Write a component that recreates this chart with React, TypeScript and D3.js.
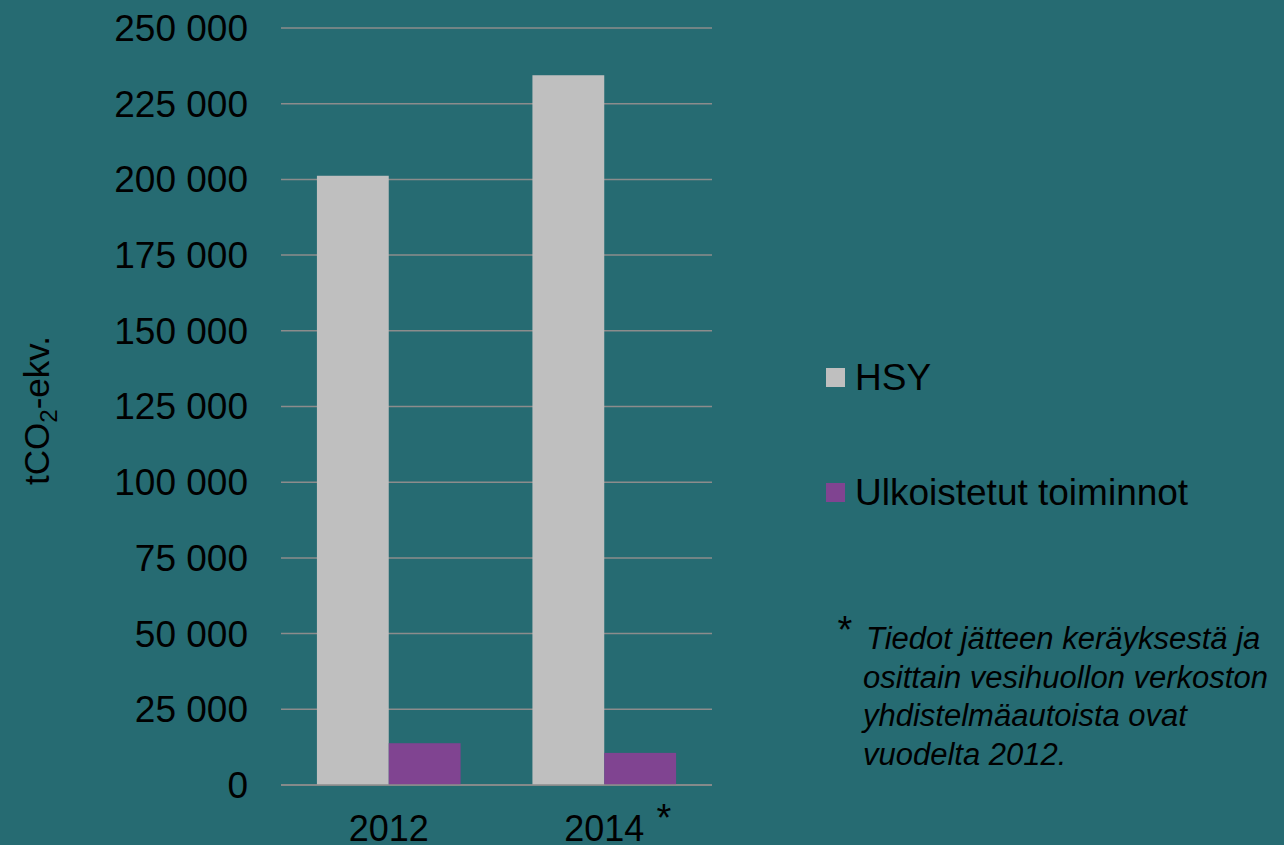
import React, { useEffect, useRef } from "react";
import * as d3 from "d3";

const years = ["2012", "2014"];
const seriesNames = ["HSY", "Ulkoistetut toiminnot"];
const hsyValues = [201200, 234400];
const outsourcedValues = [13800, 10600];
const yTicks = [0, 25000, 50000, 75000, 100000, 125000, 150000, 175000, 200000, 225000, 250000];
const footnoteLines = [
  "Tiedot jätteen keräyksestä ja",
  "osittain vesihuollon verkoston",
  "yhdistelmäautoista ovat",
  "vuodelta 2012.",
];

const W = 1284;
const H = 845;
const colors = ["#BFBFBF", "#804491"];

export default function App() {
  const ref = useRef<SVGSVGElement>(null);

  useEffect(() => {
    const svg = d3.select(ref.current);
    svg.selectAll("*").remove();

    const font = "'Liberation Sans', Arial, sans-serif";
    const left = 281;
    const right = 712;
    const top = 28;
    const bottom = 785;

    svg.append("rect").attr("width", W).attr("height", H).attr("fill", "#266B72");

    const y = d3.scaleLinear().domain([0, 250000]).range([bottom, top]);
    const x0 = d3.scaleBand().domain(years).range([left, right]).padding(0);
    const x1 = d3
      .scaleBand()
      .domain(seriesNames)
      .range([0, x0.bandwidth()])
      .paddingInner(0)
      .paddingOuter(0.5);

    // gridlines
    svg
      .append("g")
      .selectAll("line")
      .data(yTicks)
      .join("line")
      .attr("x1", left)
      .attr("x2", right)
      .attr("y1", (d) => y(d))
      .attr("y2", (d) => y(d))
      .attr("stroke", "#8C8C8C")
      .attr("stroke-width", 1.5);

    // tick labels
    const fmt = (v: number) => d3.format(",")(v).replace(/,/g, " ");
    svg
      .append("g")
      .selectAll("text")
      .data(yTicks)
      .join("text")
      .attr("x", 248)
      .attr("y", (d) => y(d))
      .attr("dy", "0.35em")
      .attr("text-anchor", "end")
      .attr("font-family", font)
      .attr("font-size", 37)
      .attr("fill", "#000")
      .text((d) => fmt(d));

    const rows = years.map((yr, i) => ({
      year: yr,
      values: [hsyValues[i], outsourcedValues[i]],
    }));

    const groups = svg
      .append("g")
      .selectAll("g")
      .data(rows)
      .join("g")
      .attr("transform", (d) => `translate(${x0(d.year)},0)`);

    groups
      .selectAll("rect")
      .data((d) => d.values.map((v, j) => ({ name: seriesNames[j], value: v, j })))
      .join("rect")
      .attr("x", (d) => x1(d.name)!)
      .attr("y", (d) => y(d.value))
      .attr("width", x1.bandwidth())
      .attr("height", (d) => y(0) - y(d.value))
      .attr("fill", (d) => colors[d.j]);

    // zero line on top
    svg
      .append("line")
      .attr("x1", left)
      .attr("x2", right)
      .attr("y1", y(0))
      .attr("y2", y(0))
      .attr("stroke", "#8C8C8C")
      .attr("stroke-width", 1.5);

    // year labels
    svg
      .append("g")
      .selectAll("text")
      .data(years)
      .join("text")
      .attr("x", (d) => x0(d)! + x0.bandwidth() / 2)
      .attr("y", 841)
      .attr("text-anchor", "middle")
      .attr("font-family", font)
      .attr("font-size", 36)
      .attr("fill", "#000")
      .text((d) => d);

    svg
      .append("text")
      .attr("x", 664)
      .attr("y", 831)
      .attr("text-anchor", "middle")
      .attr("font-family", font)
      .attr("font-size", 38)
      .attr("fill", "#000")
      .text("*");

    // y axis title
    const yt = svg
      .append("text")
      .attr("transform", `translate(49,${(top + bottom) / 2 + 4}) rotate(-90)`)
      .attr("text-anchor", "middle")
      .attr("font-family", font)
      .attr("font-size", 35)
      .attr("fill", "#000");
    yt.append("tspan").text("tCO");
    yt.append("tspan").attr("font-size", 24).attr("dy", 8).text("2");
    yt.append("tspan").attr("dy", -8).text("-ekv.");

    // legend
    const legend = svg
      .append("g")
      .selectAll("g")
      .data(seriesNames)
      .join("g")
      .attr("transform", (d, i) => `translate(826,${368 + i * 115})`);
    legend
      .append("rect")
      .attr("width", 19)
      .attr("height", 19)
      .attr("fill", (d, i) => colors[i]);
    legend
      .append("text")
      .attr("x", 29)
      .attr("y", 22)
      .attr("font-family", font)
      .attr("font-size", 37)
      .attr("fill", "#000")
      .text((d) => d);

    // footnote
    svg
      .append("text")
      .attr("x", 845)
      .attr("y", 643)
      .attr("text-anchor", "middle")
      .attr("font-family", font)
      .attr("font-size", 38)
      .attr("fill", "#000")
      .text("*");
    svg
      .append("g")
      .selectAll("text")
      .data(footnoteLines)
      .join("text")
      .attr("x", (d, i) => (i === 0 ? 866 : 863))
      .attr("y", (d, i) => 649 + i * 38.5)
      .attr("font-family", font)
      .attr("font-style", "italic")
      .attr("font-size", 31)
      .attr("fill", "#000")
      .text((d) => d);
  }, []);

  return (
    <div style={{ position: "fixed", left: 0, top: 0 }}>
      <svg ref={ref} width={W} height={H} />
    </div>
  );
}
